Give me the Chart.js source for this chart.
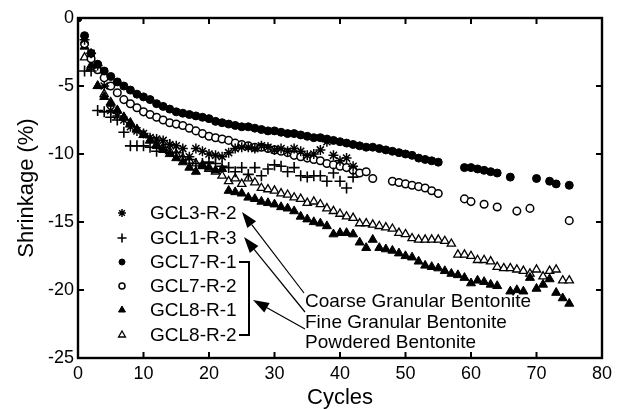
<!DOCTYPE html>
<html>
<head>
<meta charset="utf-8">
<script src="https://cdn.jsdelivr.net/npm/chart.js@4.4.1/dist/chart.umd.min.js"></script>
<style>
  html, body { margin: 0; padding: 0; background: #fff; }
  canvas { display: block; }
</style>
</head>
<body>
<canvas id="chart" width="622" height="409"></canvas>
<script>
// series values (cycle, shrinkage %)
var cyclesGCL3R2 = [1,2,3,4,5,6,7,8,9,10,11,12,13,14,15,16,17,18,19,20,21,22,23,24,25,26,27,28,29,30,31,32,33,34,35,36,37,38,39,40,41,42];
var shrinkGCL3R2 = [-1.6,-2.6,-3.5,-5.0,-6.8,-7.2,-7.5,-8.0,-8.3,-8.5,-8.8,-8.9,-9.0,-9.3,-9.4,-9.6,-10.2,-9.6,-9.8,-10.0,-10.1,-10.2,-9.9,-9.6,-9.5,-9.5,-9.6,-9.4,-9.5,-9.7,-9.6,-9.8,-9.6,-9.8,-10.1,-10.0,-9.7,-9.1,-10.1,-10.5,-10.3,-10.9];

var cyclesGCL1R3 = [1,2,3,4,5,6,7,8,9,10,11,12,13,14,15,16,17,18,19,20,21,22,23,24,25,26,27,28,29,30,31,32,33,34,35,36,37,38,39,40,41,42];
var shrinkGCL1R3 = [-3.9,-3.9,-6.8,-6.9,-7.3,-7.5,-8.4,-9.4,-9.4,-9.4,-9.5,-9.8,-9.5,-9.3,-9.9,-10.2,-10.4,-10.7,-10.7,-10.6,-10.7,-10.9,-11.0,-11.3,-11.0,-11.5,-11.0,-11.6,-11.1,-10.8,-10.9,-11.3,-11.0,-11.6,-11.7,-11.6,-11.6,-12.0,-11.4,-12.0,-12.5,-11.7];

var cyclesGCL7R1 = [0,1,2,3,4,5,6,7,8,9,10,11,12,13,14,15,16,17,18,19,20,21,22,23,24,25,26,27,28,29,30,31,32,33,34,35,36,37,38,39,40,41,42,43,44,45,46,47,48,49,50,51,52,53,54,55,59,60,61,62,63,64,66,70,72,73,75];
var shrinkGCL7R1 = [0,-1.3,-2.6,-3.4,-3.9,-4.3,-4.7,-5.0,-5.3,-5.6,-5.8,-6.0,-6.3,-6.5,-6.7,-6.9,-7.0,-7.1,-7.2,-7.3,-7.4,-7.6,-7.7,-7.8,-7.9,-8.0,-8.0,-8.1,-8.2,-8.3,-8.3,-8.4,-8.5,-8.5,-8.6,-8.7,-8.8,-8.8,-8.9,-9.0,-9.1,-9.2,-9.3,-9.4,-9.5,-9.5,-9.6,-9.7,-9.8,-9.9,-10.0,-10.1,-10.3,-10.4,-10.5,-10.6,-11.0,-11.0,-11.1,-11.2,-11.3,-11.4,-11.7,-11.8,-12.0,-12.2,-12.3];

var cyclesGCL7R2 = [1,2,3,4,5,6,7,8,9,10,11,12,13,14,15,16,17,18,19,20,21,22,23,24,25,26,27,28,29,30,31,32,33,34,35,36,37,38,39,40,41,42,43,44,45,48,49,50,51,52,53,54,55,59,60,62,64,67,69,75];
var shrinkGCL7R2 = [-1.9,-3.0,-3.8,-4.4,-5.0,-5.5,-6.0,-6.3,-6.6,-6.9,-7.1,-7.3,-7.5,-7.7,-7.8,-7.9,-8.1,-8.3,-8.5,-8.7,-8.8,-8.9,-9.0,-9.2,-9.3,-9.4,-9.5,-9.5,-9.6,-9.7,-9.8,-9.9,-10.1,-10.2,-10.3,-10.4,-10.5,-10.7,-10.8,-10.9,-11.0,-11.2,-11.4,-11.3,-11.8,-12.0,-12.1,-12.2,-12.3,-12.4,-12.5,-12.7,-12.9,-13.3,-13.5,-13.7,-13.9,-14.2,-14.0,-14.9];

var cyclesGCL8R1 = [1,2,3,4,5,6,7,8,9,10,11,12,13,14,15,16,17,18,19,20,21,22,23,24,25,26,27,28,29,30,31,32,33,34,35,36,37,38,39,40,41,42,43,44,45,46,47,48,49,50,51,52,53,54,55,56,57,58,59,60,61,62,63,64,66,67,68,69,70,71,72,73,74,75];
var shrinkGCL8R1 = [-2.1,-3.5,-5.0,-5.8,-6.3,-6.8,-7.3,-7.7,-8.2,-8.6,-9.0,-9.4,-9.7,-10.0,-10.3,-10.6,-11.0,-11.3,-10.8,-11.0,-11.2,-11.1,-12.7,-12.8,-12.9,-13.2,-13.3,-13.5,-13.6,-13.7,-13.9,-14.0,-14.2,-14.6,-14.8,-15.0,-15.1,-15.3,-15.9,-15.8,-15.8,-15.9,-16.5,-16.9,-16.3,-16.9,-17.0,-17.1,-17.3,-17.5,-17.6,-17.9,-18.2,-18.3,-18.4,-18.6,-18.8,-18.9,-19.1,-19.5,-19.3,-19.4,-19.6,-19.7,-20.1,-20.0,-20.1,-19.1,-19.9,-19.6,-19.2,-20.2,-20.6,-21.0];

var cyclesGCL8R2 = [1,2,3,4,5,6,7,8,9,10,11,12,13,14,15,16,17,18,19,20,21,22,23,24,25,26,27,28,29,30,31,32,33,34,35,36,37,38,39,40,41,42,43,44,45,46,47,48,49,50,51,52,53,54,55,56,57,58,59,60,61,62,63,64,65,66,67,68,69,70,71,72,73,74,75];
var shrinkGCL8R2 = [-2.9,-3.6,-5.0,-5.6,-6.2,-6.8,-7.3,-7.8,-8.2,-8.6,-9.0,-9.3,-9.5,-9.8,-10.0,-10.3,-10.5,-10.7,-10.9,-11.1,-11.3,-11.6,-12.0,-11.8,-12.2,-11.8,-12.1,-12.5,-12.6,-12.7,-12.9,-13.0,-13.2,-13.3,-13.6,-13.5,-13.7,-14.0,-14.2,-14.4,-14.6,-14.7,-15.1,-15.1,-15.2,-15.3,-15.4,-15.5,-15.8,-15.9,-16.2,-16.3,-16.3,-16.3,-16.3,-16.4,-16.6,-17.4,-17.4,-17.5,-17.8,-17.8,-17.9,-18.3,-18.4,-18.4,-18.5,-18.6,-18.8,-18.5,-19.0,-18.6,-18.5,-19.3,-19.3];

var seriesNames = ['GCL3-R-2', 'GCL1-R-3', 'GCL7-R-1', 'GCL7-R-2', 'GCL8-R-1', 'GCL8-R-2'];
var noteTexts = ['Coarse Granular Bentonite', 'Fine Granular Bentonite', 'Powdered Bentonite'];
var xTicks = [0, 10, 20, 30, 40, 50, 60, 70, 80];
var yTicks = [0, -5, -10, -15, -20, -25];

var FONT = '"Liberation Sans", Arial, Helvetica, sans-serif';

function toPoints(xs, ys) {
    return xs.map(function (x, i) { return { x: x, y: ys[i] }; });
}

var markerStyles = [
    { pointStyle: 'star', radius: 5, borderWidth: 1.5, fill: '#000', legendRadius: 4 },
    { pointStyle: 'cross', radius: 5.5, borderWidth: 1.6, fill: '#000', legendRadius: 4.5 },
    { pointStyle: 'circle', radius: 4, borderWidth: 1, fill: '#000', legendRadius: 3 },
    { pointStyle: 'circle', radius: 3.8, borderWidth: 1.5, fill: '#fff', legendRadius: 3 },
    { pointStyle: 'triangle', radius: 5.2, borderWidth: 1, fill: '#000', legendRadius: 4 },
    { pointStyle: 'triangle', radius: 4.8, borderWidth: 1.3, fill: '#fff', legendRadius: 4 }
];

var seriesData = [
    toPoints(cyclesGCL3R2, shrinkGCL3R2),
    toPoints(cyclesGCL1R3, shrinkGCL1R3),
    toPoints(cyclesGCL7R1, shrinkGCL7R1),
    toPoints(cyclesGCL7R2, shrinkGCL7R2),
    toPoints(cyclesGCL8R1, shrinkGCL8R1),
    toPoints(cyclesGCL8R2, shrinkGCL8R2)
];

var datasets = seriesNames.map(function (name, i) {
    var m = markerStyles[i];
    return {
        label: name,
        data: seriesData[i],
        showLine: false,
        pointStyle: m.pointStyle,
        pointRadius: m.radius,
        pointBorderWidth: m.borderWidth,
        pointBackgroundColor: m.fill,
        pointBorderColor: '#000',
        backgroundColor: m.fill,
        borderColor: '#000'
    };
});

// frame, inward ticks, in-plot legend and the bentonite notes
var decorations = {
    id: 'decorations',
    afterDraw: function (chart) {
        var ctx = chart.ctx;
        var area = chart.chartArea;
        var xs = chart.scales.x, ys = chart.scales.y;
        ctx.save();
        ctx.strokeStyle = '#000';
        ctx.fillStyle = '#000';
        ctx.lineWidth = 2.4;
        ctx.strokeRect(area.left, area.top, area.right - area.left, area.bottom - area.top);

        ctx.lineWidth = 2;
        var tl = 6;
        xTicks.forEach(function (v) {
            if (v === xs.min || v === xs.max) return;
            var px = xs.getPixelForValue(v);
            ctx.beginPath();
            ctx.moveTo(px, area.bottom); ctx.lineTo(px, area.bottom - tl);
            ctx.moveTo(px, area.top); ctx.lineTo(px, area.top + tl);
            ctx.stroke();
        });
        yTicks.forEach(function (v) {
            if (v === ys.min || v === ys.max) return;
            var py = ys.getPixelForValue(v);
            ctx.beginPath();
            ctx.moveTo(area.left, py); ctx.lineTo(area.left + tl, py);
            ctx.moveTo(area.right, py); ctx.lineTo(area.right - tl, py);
            ctx.stroke();
        });

        // legend
        var rowY = [213, 238, 262, 286, 310, 335];
        ctx.font = '19px ' + FONT;
        ctx.textBaseline = 'middle';
        ctx.textAlign = 'left';
        seriesNames.forEach(function (name, i) {
            var m = markerStyles[i];
            ctx.fillStyle = m.fill;
            ctx.strokeStyle = '#000';
            ctx.lineWidth = m.borderWidth;
            Chart.helpers.drawPoint(ctx, {
                pointStyle: m.pointStyle,
                radius: m.legendRadius,
                borderWidth: m.borderWidth,
                rotation: 0
            }, 122, rowY[i]);
            ctx.fillStyle = '#000';
            ctx.fillText(name, 150, rowY[i] + 1);
        });

        // bracket for GCL7/GCL8
        ctx.strokeStyle = '#000';
        ctx.lineWidth = 2;
        ctx.beginPath();
        ctx.moveTo(239, 262); ctx.lineTo(249, 262); ctx.lineTo(249, 335); ctx.lineTo(239, 335);
        ctx.stroke();

        // arrows
        var arrows = [[304, 293, 242, 212], [305, 312, 244, 237], [305, 329, 253, 300]];
        ctx.lineWidth = 1.2;
        arrows.forEach(function (a) {
            var ang = Math.atan2(a[3] - a[1], a[2] - a[0]);
            var len = 16, hw = 5.5;
            var bx = a[2] - len * Math.cos(ang), by = a[3] - len * Math.sin(ang);
            ctx.beginPath();
            ctx.moveTo(a[0], a[1]); ctx.lineTo(bx, by);
            ctx.stroke();
            ctx.beginPath();
            ctx.moveTo(a[2], a[3]);
            ctx.lineTo(bx + hw * Math.sin(ang), by - hw * Math.cos(ang));
            ctx.lineTo(bx - hw * Math.sin(ang), by + hw * Math.cos(ang));
            ctx.closePath();
            ctx.fill();
        });

        var noteY = [302, 323, 343];
        ctx.font = '19px ' + FONT;
        noteTexts.forEach(function (t, i) {
            ctx.fillText(t, 305, noteY[i]);
        });
        ctx.restore();
    }
};

var tickFont = { family: FONT, size: 18 };
var titleFont = { family: FONT, size: 22, lineHeight: 1 };

var chart = new Chart(document.getElementById('chart').getContext('2d'), {
    type: 'scatter',
    data: { datasets: datasets },
    options: {
        responsive: false,
        animation: false,
        events: [],
        layout: { padding: { top: 18, right: 20, left: 0, bottom: 0 } },
        plugins: {
            legend: { display: false },
            tooltip: { enabled: false }
        },
        scales: {
            x: {
                type: 'linear',
                min: 0,
                max: 80,
                afterBuildTicks: function (scale) {
                    scale.ticks = xTicks.map(function (v) { return { value: v }; });
                },
                afterFit: function (scale) { scale.height = 51; },
                ticks: { color: '#000', font: tickFont, padding: 5, maxRotation: 0, autoSkip: false },
                grid: { display: false, drawTicks: false },
                border: { display: false },
                title: { display: true, text: 'Cycles', color: '#000', font: titleFont, padding: { top: 0, bottom: 0 } }
            },
            y: {
                type: 'linear',
                min: -25,
                max: 0,
                afterBuildTicks: function (scale) {
                    scale.ticks = yTicks.map(function (v) { return { value: v }; });
                },
                afterFit: function (scale) { scale.width = 78; },
                ticks: { color: '#000', font: tickFont, padding: 4, autoSkip: false },
                grid: { display: false, drawTicks: false },
                border: { display: false },
                title: { display: true, text: 'Shrinkage (%)', color: '#000', font: titleFont, padding: { top: 16, bottom: 0 } }
            }
        }
    },
    plugins: [decorations]
});
</script>
</body>
</html>
